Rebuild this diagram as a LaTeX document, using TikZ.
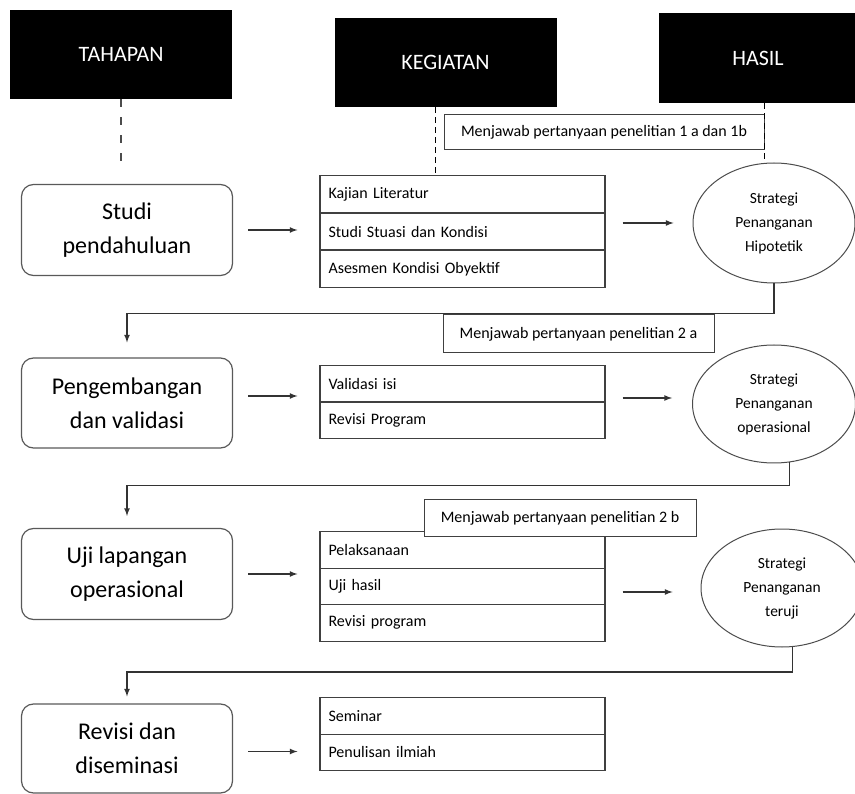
\documentclass[tikz,border=0pt]{standalone}
\usepackage{fontspec}
\setmainfont{Carlito}
\usepackage{tikz}
\usetikzlibrary{positioning,shapes}

\begin{document}
\begin{tikzpicture}[x=1pt,y=-1pt,
    head/.style={fill=black,text=white,minimum width=222pt,minimum height=89pt,font=\fontsize{22}{26}\selectfont},
    stage/.style={draw=black!65,line width=1.2pt,rounded corners=12pt,minimum width=211pt,minimum height=91pt,align=center,font=\fontsize{24}{34}\selectfont},
    item/.style={draw=black!75,line width=1.2pt,minimum width=285pt,minimum height=37pt,text width=268pt,inner xsep=8.5pt,align=left,anchor=north,font=\fontsize{16}{18}\selectfont},
    hsl/.style={ellipse,draw=black!70,line width=1pt,minimum width=162pt,minimum height=120pt,align=center,font=\fontsize{15.5}{24}\selectfont},
    ask/.style={draw=black!75,fill=white,line width=1pt,minimum height=36pt,font=\fontsize{16}{18}\selectfont},
    flow/.style={draw=black!80,line width=1.6pt},
    guide/.style={draw=black!70,line width=2pt,dash pattern=on 8pt off 10pt},
    fine/.style={draw=black,line width=1.2pt,dash pattern=on 6pt off 4pt}]

\useasboundingbox (0,0) rectangle (855,794);

\node[head] (tahapan) at (121,54.5) {TAHAPAN};
\node[head] (kegiatan) at (445.5,62.5) {KEGIATAN};
\node[head,minimum width=198pt,minimum height=90pt] (hasil) at (758,58) {HASIL};

\node[stage] (studi) at (127,230) {Studi\\pendahuluan};
\node[stage,minimum height=90pt] (peng) at (127,403) {Pengembangan\\dan validasi};
\node[stage] (uji) at (127,574) {Uji lapangan\\operasional};
\node[stage,minimum height=89pt] (revisi) at (127,748.5) {Revisi dan\\diseminasi};

\foreach \i/\txt in {1/Kajian Literatur, 2/Studi Stuasi dan Kondisi, 3/Asesmen Kondisi Obyektif}
    \node[item] (kg1-\i) at (462.5,{175+37.5*(\i-1)}) {\txt};
\foreach \i/\txt in {1/Validasi isi, 2/Revisi Program}
    \node[item,minimum height=36.5pt] (kg2-\i) at (462.5,{365+36.5*(\i-1)}) {\txt};
\foreach \i/\txt in {1/Pelaksanaan, 2/Uji hasil, 3/Revisi program}
    \node[item,minimum height=36.5pt] (kg3-\i) at (462.5,{531+36.5*(\i-1)}) {\txt};
\foreach \i/\txt in {1/Seminar, 2/Penulisan ilmiah}
    \node[item,minimum height=36.5pt] (kg4-\i) at (462.5,{697+36.5*(\i-1)}) {\txt};

\node[hsl] (ell1) at (774,223) {Strategi\\Penanganan\\Hipotetik};
\node[hsl,minimum width=163pt,minimum height=118pt] (ell2) at (774,404) {Strategi\\Penanganan\\operasional};
\node[hsl,minimum height=118pt] (ell3) at (782,588) {Strategi\\Penanganan\\teruji};

\node[ask,minimum width=320pt,minimum height=35pt] (q1) at (604,132.5) {Menjawab pertanyaan penelitian 1 a dan 1b};
\node[ask,minimum width=271pt,minimum height=38pt] (q2) at (578.5,334) {Menjawab pertanyaan penelitian 2 a};
\node[ask,minimum width=272pt] (q3) at (560,518) {Menjawab pertanyaan penelitian 2 b};

\coordinate (tahapan-end) at (121,167);
\draw[guide] (tahapan.south) -- (tahapan-end);
\draw[fine] ([xshift=-10pt]kegiatan.south) -- ([xshift=-10pt]kegiatan.south |- kg1-1.north);
\draw[fine] (q1.east |- hasil.south) -- (q1.east |- ell1.north);

\draw[flow,-latex,shorten <=15pt,shorten >=22pt] (studi.east) -- (studi.east -| kg1-2.west);
\draw[flow,-latex,shorten <=15pt,shorten >=22pt] ([yshift=7pt]peng.east) -- ([yshift=7pt]peng.east -| kg2-1.west);
\draw[flow,-latex,shorten <=15pt,shorten >=22pt] (uji.east) -- (uji.east -| kg3-2.west);
\draw[flow,-latex,shorten <=15pt,shorten >=22pt] ([yshift=-3pt]revisi.east) -- ([yshift=-3pt]revisi.east -| kg4-2.west);

\draw[flow,-latex,shorten <=17pt,shorten >=19pt] (ell1.west -| kg1-2.east) -- (ell1.west);
\draw[flow,-latex,shorten <=17pt,shorten >=20pt] ([yshift=6pt]ell2.west -| kg2-1.east) -- ([yshift=6pt]ell2.west);
\draw[flow,-latex,shorten <=17pt,shorten >=28pt] ([yshift=-4pt]ell3.west -| kg3-2.east) -- ([yshift=-4pt]ell3.west);

\draw[flow,-latex,shorten >=15pt] (ell1.south) -- ++(0,30) -| (peng.north);
\draw[flow,-latex,shorten >=12pt] (ell2.-75) -- ++(0,23) -| (uji.north);
\draw[flow,-latex,shorten >=7pt] (ell3.-80) -- ++(0,25) -| (revisi.north);
\end{tikzpicture}
\end{document}
